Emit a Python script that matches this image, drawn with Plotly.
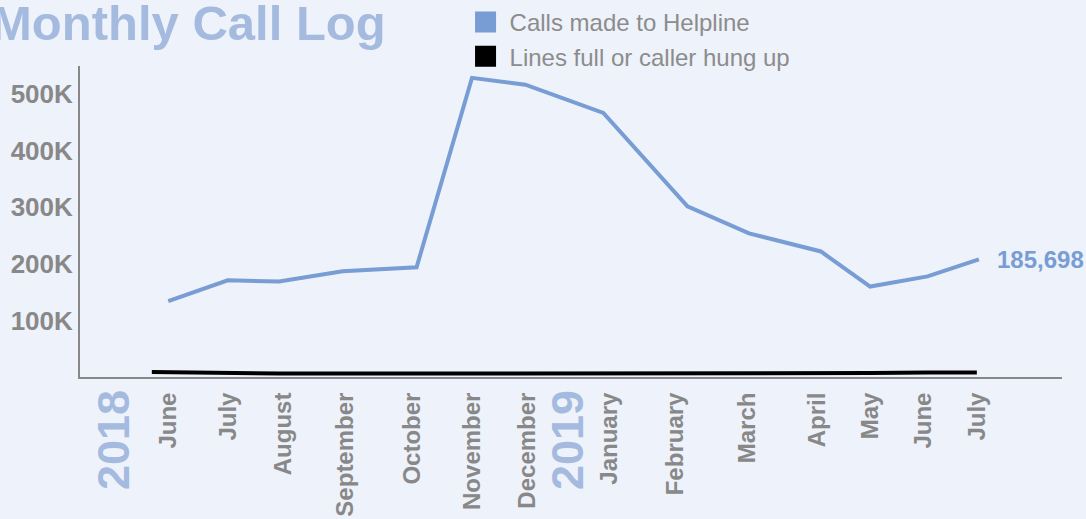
import plotly.graph_objects as go

# ---- data ----
call_dates = ["2018-06-15", "2018-07-14", "2018-08-08", "2018-09-08", "2018-10-14",
              "2018-11-10", "2018-12-06", "2019-01-13", "2019-02-23", "2019-03-25",
              "2019-04-29", "2019-05-23", "2019-06-20", "2019-07-15"]
calls_made = [134000, 171000, 169000, 187000, 194000, 529000, 517000, 467000,
              302000, 254000, 222000, 160000, 178000, 208000]

full_dates = ["2018-06-07", "2018-07-14", "2018-08-08", "2018-09-08", "2018-10-14",
              "2018-11-10", "2018-12-06", "2019-01-13", "2019-02-23", "2019-03-25",
              "2019-04-29", "2019-05-23", "2019-06-20", "2019-07-14"]
lines_full = [9000, 6500, 6000, 6000, 6000, 6000, 6000, 6000, 6000, 6000,
              6000, 7000, 8000, 8000]

tick_dates = ["2018-06-15", "2018-07-14", "2018-08-10", "2018-09-09", "2018-10-12",
              "2018-11-10", "2018-12-07", "2019-01-16", "2019-02-17", "2019-03-24",
              "2019-04-27", "2019-05-23", "2019-06-18", "2019-07-14"]
tick_labels = ["June", "July", "August", "September", "October", "November", "December",
               "January", "February", "March", "April", "May", "June", "July"]

y_ticks = [100000, 200000, 300000, 400000, 500000]
y_tick_labels = ["100K", "200K", "300K", "400K", "500K"]

series_names = ["Calls made to Helpline", "Lines full or caller hung up"]
last_label = "185,698"
years = ["2018", "2019"]

BLUE = "#789cd4"
PALE = "#a5badf"
GRAY = "#888888"
BG = "#eef2fa"
FONT = "Liberation Sans, Arial, sans-serif"

fig = go.Figure()
fig.add_trace(go.Scatter(x=full_dates, y=lines_full, mode="lines",
                         line=dict(color="#000000", width=4), showlegend=False,
                         hoverinfo="skip"))
fig.add_trace(go.Scatter(x=call_dates, y=calls_made, mode="lines",
                         line=dict(color=BLUE, width=4), showlegend=False))
# legend swatches
for name, col in zip(series_names, [BLUE, "#000000"]):
    fig.add_trace(go.Scatter(x=[None], y=[None], mode="markers", name=name,
                             marker=dict(symbol="square", size=16, color=col,
                                         line=dict(color=col, width=6))))

fig.update_layout(
    width=1086, height=519,
    paper_bgcolor=BG, plot_bgcolor=BG,
    margin=dict(l=80, r=24, t=66, b=142, autoexpand=False),
    font=dict(family=FONT, color=GRAY),
    legend=dict(xref="container", yref="container", x=0.425, y=1.007,
                xanchor="left", yanchor="top", itemwidth=38,
                font=dict(size=24, color="#8c8c8c"), bgcolor="rgba(0,0,0,0)",
                itemsizing="trace", tracegroupgap=0),
    xaxis=dict(type="date", range=["2018-05-03", "2019-08-24 12:00"],
               tickvals=tick_dates, ticktext=tick_labels, tickangle=-90,
               tickfont=dict(size=24, color=GRAY, family=FONT, weight="bold"),
               showgrid=False, zeroline=False, showline=True, linecolor=GRAY,
               linewidth=2, ticks="", ticklabelstandoff=4, automargin=False),
    yaxis=dict(range=[0, 550000], tickvals=y_ticks, ticktext=y_tick_labels,
               tickfont=dict(size=26, color=GRAY, family=FONT, weight="bold"),
               showgrid=False, zeroline=False, showline=True, linecolor=GRAY,
               linewidth=2, ticks="", ticklabelstandoff=0, automargin=False),
    hovermode=False,
)

fig.add_annotation(text="Monthly Call Log", xref="paper", yref="paper",
                   x=0.3136, y=1.139, xanchor="right", yanchor="middle",
                   showarrow=False,
                   font=dict(size=49, color=PALE, family=FONT, weight="bold"))
fig.add_annotation(text=last_label, x=call_dates[-1], y=calls_made[-1],
                   xanchor="left", yanchor="middle", xshift=16, showarrow=False,
                   font=dict(size=24, color=BLUE, family=FONT, weight="bold"))
for yr, px in zip(years, [0.0336, 0.496]):
    fig.add_annotation(text=yr, xref="paper", yref="paper", x=px, y=-0.2026,
                       xanchor="center", yanchor="middle", textangle=-90,
                       showarrow=False,
                       font=dict(size=45, color=PALE, family=FONT, weight="bold"))

fig.write_html("out.html", config={"displayModeBar": False},
               post_script="document.body.style.margin='0';")
